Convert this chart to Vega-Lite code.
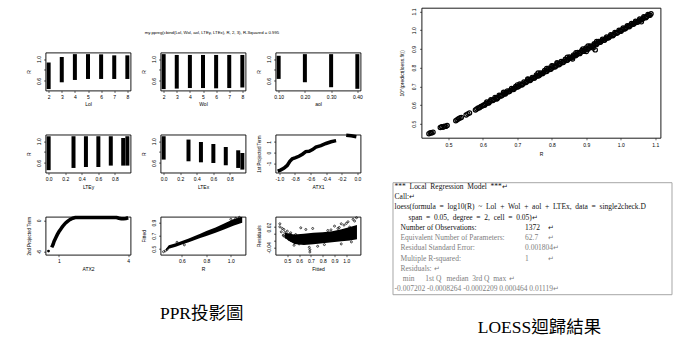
{
  "$schema": "https://vega.github.io/schema/vega-lite/v6.json",
  "background": "white",
  "padding": {"left": 25.5, "top": 6.8, "right": 0, "bottom": 0},
  "config": {
    "view": {"stroke": "black", "strokeWidth": 0.9},
    "axis": {"domain": false, "grid": false, "ticks": true, "tickSize": 2, "tickColor": "black", "tickWidth": 0.6, "labelFont": "Liberation Sans", "labelFontSize": 5, "labelColor": "black", "titleFont": "Liberation Sans", "titleFontSize": 5, "titleFontWeight": "normal", "titleColor": "black", "labelOverlap": false, "labelFlush": false},
    "axisX": {"labelPadding": 2, "titlePadding": 2.5},
    "axisY": {"labelAngle": 270, "labelAlign": "center", "labelBaseline": "bottom", "labelPadding": 2.5, "titlePadding": 5}
  },
  "datasets": {
    "loessLines": [
      {"line": 1, "indent": 0.6, "part": "call", "text": "*** \u00a0Local \u00a0Regression \u00a0Model \u00a0***↵"},
      {"line": 2, "indent": 0.6, "part": "call", "text": "Call:↵"},
      {"line": 3, "indent": 0.6, "part": "call", "text": "loess(formula \u00a0= \u00a0log10(R) \u00a0~ \u00a0Lol \u00a0+ \u00a0Wol \u00a0+ \u00a0aol \u00a0+ \u00a0LTEx, \u00a0data \u00a0= \u00a0single2check.D"},
      {"line": 4, "indent": 4.6, "part": "call", "text": "span \u00a0= \u00a00.05, \u00a0degree \u00a0= \u00a02, \u00a0cell \u00a0= \u00a00.05)↵"},
      {"line": 5, "indent": 2.3, "part": "call", "text": "Number of Observations:"},
      {"line": 5, "indent": 38, "part": "call", "text": "1372"},
      {"line": 5, "indent": 44.5, "part": "call", "text": "↵"},
      {"line": 6, "indent": 2.3, "part": "summary", "text": "Equivalent Number of Parameters:"},
      {"line": 6, "indent": 38, "part": "summary", "text": "62.7"},
      {"line": 6, "indent": 44.5, "part": "summary", "text": "↵"},
      {"line": 7, "indent": 2.3, "part": "summary", "text": "Residual Standard Error:"},
      {"line": 7, "indent": 38, "part": "summary", "text": "0.001804↵"},
      {"line": 8, "indent": 2.3, "part": "summary", "text": "Multiple R-squared:"},
      {"line": 8, "indent": 38, "part": "summary", "text": "1"},
      {"line": 8, "indent": 44.5, "part": "summary", "text": "↵"},
      {"line": 9, "indent": 2.3, "part": "summary", "text": "Residuals: ↵"},
      {"line": 10, "indent": 33.5, "part": "summary", "text": "↵"},
      {"line": 11, "indent": 0.6, "part": "summary", "text": "-0.007202 -0.0008264 -0.0002209 0.000464 0.01119↵"}
    ],
    "residualHeader": [
      {"line": 10, "indent": 6.3, "part": "summary", "text": "min"},
      {"line": 10, "indent": 14.0, "part": "summary", "text": "1st Q"},
      {"line": 10, "indent": 21.8, "part": "summary", "text": "median"},
      {"line": 10, "indent": 27.8, "part": "summary", "text": "3rd Q"},
      {"line": 10, "indent": 32.6, "part": "summary", "text": "max"}
    ]
  },
  "hconcat": [
    {
      "vconcat": [
        {
          "width": 333, "height": 27.7, "view": {"stroke": null, "fill": "white"},
          "data": {"values": [{"label": "my.ppreg(cbind(Lol, Wol, aol, LTEy, LTEx), R, 2, 3), R-Squared = 0.995"}]},
          "mark": {"type": "text", "font": "Liberation Sans", "fontSize": 4.3, "dy": 11.35, "color": "black"},
          "encoding": {"text": {"field": "label"}}
        },
        {
          "vconcat": [
            {
              "hconcat": [
                {
                  "width": 85, "height": 38,
                  "data": {"values": [
                    {"Lol": 2, "lo": 0.451, "hi": 0.937}, {"Lol": 3, "lo": 0.575, "hi": 1.038}, {"Lol": 4, "lo": 0.618, "hi": 1.09},
                    {"Lol": 5, "lo": 0.636, "hi": 1.09}, {"Lol": 6, "lo": 0.636, "hi": 1.086}, {"Lol": 7, "lo": 0.636, "hi": 1.068}, {"Lol": 8, "lo": 0.636, "hi": 1.068}
                  ]},
                  "mark": {"type": "rule", "strokeWidth": 4, "color": "black"},
                  "encoding": {
                    "x": {"field": "Lol", "type": "quantitative", "scale": {"domain": [1.76, 8.24], "nice": false, "zero": false}, "axis": {"values": [2, 3, 4, 5, 6, 7, 8], "format": "d", "title": "Lol"}},
                    "y": {"field": "lo", "type": "quantitative", "scale": {"domain": [0.425, 1.12], "nice": false, "zero": false}, "axis": {"values": [0.6, 0.8, 1.0], "labelExpr": "datum.value == 0.8 ? '' : format(datum.value, '.1f')", "title": "R"}},
                    "y2": {"field": "hi"}
                  }
                },
                {
                  "width": 85, "height": 38,
                  "data": {"values": [
                    {"Wol": 2, "lo": 0.45, "hi": 1.09}, {"Wol": 3, "lo": 0.46, "hi": 1.075}, {"Wol": 4, "lo": 0.47, "hi": 1.075},
                    {"Wol": 5, "lo": 0.47, "hi": 1.075}, {"Wol": 6, "lo": 0.465, "hi": 1.075}, {"Wol": 7, "lo": 0.47, "hi": 1.075}, {"Wol": 8, "lo": 0.48, "hi": 1.075}
                  ]},
                  "mark": {"type": "rule", "strokeWidth": 4, "color": "black"},
                  "encoding": {
                    "x": {"field": "Wol", "type": "quantitative", "scale": {"domain": [1.76, 8.24], "nice": false, "zero": false}, "axis": {"values": [2, 3, 4, 5, 6, 7, 8], "format": "d", "title": "Wol"}},
                    "y": {"field": "lo", "type": "quantitative", "scale": {"domain": [0.425, 1.12], "nice": false, "zero": false}, "axis": {"values": [0.6, 0.8, 1.0], "labelExpr": "datum.value == 0.8 ? '' : format(datum.value, '.1f')", "title": "R"}},
                    "y2": {"field": "hi"}
                  }
                },
                {
                  "width": 85, "height": 38,
                  "data": {"values": [
                    {"aol": 0.1, "lo": 0.637, "hi": 1.06}, {"aol": 0.2, "lo": 0.576, "hi": 1.09}, {"aol": 0.3, "lo": 0.485, "hi": 1.09}, {"aol": 0.4, "lo": 0.456, "hi": 1.09}
                  ]},
                  "mark": {"type": "rule", "strokeWidth": 4, "color": "black"},
                  "encoding": {
                    "x": {"field": "aol", "type": "quantitative", "scale": {"domain": [0.088, 0.412], "nice": false, "zero": false}, "axis": {"values": [0.1, 0.2, 0.3, 0.4], "format": ".2f", "title": "aol"}},
                    "y": {"field": "lo", "type": "quantitative", "scale": {"domain": [0.425, 1.12], "nice": false, "zero": false}, "axis": {"values": [0.6, 0.8, 1.0], "labelExpr": "datum.value == 0.8 ? '' : format(datum.value, '.1f')", "title": "R"}},
                    "y2": {"field": "hi"}
                  }
                }
              ],
              "spacing": 30, "bounds": "flush"
            },
            {
              "hconcat": [
                {
                  "width": 85, "height": 38,
                  "data": {"values": [
                    {"LTEy": 0, "lo": 0.47, "hi": 1.089}, {"LTEy": 0.3, "lo": 0.51, "hi": 1.09}, {"LTEy": 0.45, "lo": 0.527, "hi": 1.09},
                    {"LTEy": 0.6, "lo": 0.527, "hi": 1.09}, {"LTEy": 0.75, "lo": 0.553, "hi": 1.09}, {"LTEy": 0.9, "lo": 0.553, "hi": 1.058}, {"LTEy": 0.95, "lo": 0.553, "hi": 1.09}
                  ]},
                  "mark": {"type": "rule", "strokeWidth": 4, "color": "black"},
                  "encoding": {
                    "x": {"field": "LTEy", "type": "quantitative", "scale": {"domain": [-0.038, 0.988], "nice": false, "zero": false}, "axis": {"values": [0, 0.2, 0.4, 0.6, 0.8], "format": ".1f", "title": "LTEy"}},
                    "y": {"field": "lo", "type": "quantitative", "scale": {"domain": [0.425, 1.12], "nice": false, "zero": false}, "axis": {"values": [0.6, 0.8, 1.0], "labelExpr": "datum.value == 0.8 ? '' : format(datum.value, '.1f')", "title": "R"}},
                    "y2": {"field": "hi"}
                  }
                },
                {
                  "width": 85, "height": 38,
                  "data": {"values": [
                    {"LTEx": 0, "lo": 0.663, "hi": 1.09}, {"LTEx": 0.3, "lo": 0.632, "hi": 1.029}, {"LTEx": 0.45, "lo": 0.613, "hi": 0.985},
                    {"LTEx": 0.6, "lo": 0.601, "hi": 0.948}, {"LTEx": 0.75, "lo": 0.559, "hi": 0.893}, {"LTEx": 0.9, "lo": 0.51, "hi": 0.833}, {"LTEx": 0.95, "lo": 0.48, "hi": 0.784}
                  ]},
                  "mark": {"type": "rule", "strokeWidth": 4, "color": "black"},
                  "encoding": {
                    "x": {"field": "LTEx", "type": "quantitative", "scale": {"domain": [-0.038, 0.988], "nice": false, "zero": false}, "axis": {"values": [0, 0.2, 0.4, 0.6, 0.8], "format": ".1f", "title": "LTEx"}},
                    "y": {"field": "lo", "type": "quantitative", "scale": {"domain": [0.425, 1.12], "nice": false, "zero": false}, "axis": {"values": [0.6, 0.8, 1.0], "labelExpr": "datum.value == 0.8 ? '' : format(datum.value, '.1f')", "title": "R"}},
                    "y2": {"field": "hi"}
                  }
                },
                {
                  "width": 85, "height": 38,
                  "data": {"values": [
                    {"ATX1": -1.022, "term": -1.71, "seg": "a"}, {"ATX1": -0.987, "term": -1.62, "seg": "a"}, {"ATX1": -0.944, "term": -1.45, "seg": "a"},
                    {"ATX1": -0.9, "term": -1.19, "seg": "a"}, {"ATX1": -0.866, "term": -0.8, "seg": "a"}, {"ATX1": -0.835, "term": -0.57, "seg": "a"},
                    {"ATX1": -0.792, "term": -0.47, "seg": "a"}, {"ATX1": -0.749, "term": -0.34, "seg": "a"}, {"ATX1": -0.705, "term": -0.15, "seg": "a"},
                    {"ATX1": -0.662, "term": 0.09, "seg": "a"}, {"ATX1": -0.619, "term": 0.12, "seg": "a"}, {"ATX1": -0.575, "term": 0.28, "seg": "a"},
                    {"ATX1": -0.532, "term": 0.51, "seg": "a"}, {"ATX1": -0.468, "term": 0.64, "seg": "a"}, {"ATX1": -0.403, "term": 0.84, "seg": "a"},
                    {"ATX1": -0.338, "term": 1.0, "seg": "a"}, {"ATX1": -0.273, "term": 1.1, "seg": "a"},
                    {"ATX1": -0.143, "term": 1.6, "seg": "b"}, {"ATX1": -0.078, "term": 1.55, "seg": "b"}, {"ATX1": -0.013, "term": 1.47, "seg": "b"}
                  ]},
                  "mark": {"type": "line", "strokeWidth": 3.5, "color": "black"},
                  "encoding": {
                    "x": {"field": "ATX1", "type": "quantitative", "scale": {"domain": [-1.05, 0.04], "nice": false, "zero": false}, "axis": {"values": [-1, -0.8, -0.6, -0.4, -0.2, 0], "labelExpr": "replace(format(datum.value, '.1f'), '−', '-')", "title": "ATX1"}},
                    "y": {"field": "term", "type": "quantitative", "scale": {"domain": [-1.85, 1.66], "nice": false, "zero": false}, "axis": {"values": [-1, 0, 1], "labelExpr": "replace(format(datum.value, 'd'), '−', '-')", "title": "1st Projected Term", "titleFontSize": 4.5}},
                    "detail": {"field": "seg"}
                  }
                }
              ],
              "spacing": 30, "bounds": "flush"
            },
            {
              "hconcat": [
                {
                  "width": 85, "height": 38,
                  "layer": [
                    {
                      "data": {"values": [
                        {"ATX2": 0.69, "term": -5.2}, {"ATX2": 0.75, "term": -4.6}, {"ATX2": 0.79, "term": -4.04}, {"ATX2": 0.86, "term": -3.4},
                        {"ATX2": 0.93, "term": -2.75}, {"ATX2": 1.0, "term": -2.2}, {"ATX2": 1.07, "term": -1.76}, {"ATX2": 1.14, "term": -1.3},
                        {"ATX2": 1.21, "term": -0.9}, {"ATX2": 1.28, "term": -0.55}, {"ATX2": 1.36, "term": -0.25}, {"ATX2": 1.43, "term": 0.0},
                        {"ATX2": 1.5, "term": 0.2}, {"ATX2": 1.6, "term": 0.4}, {"ATX2": 1.71, "term": 0.53}, {"ATX2": 2.0, "term": 0.55},
                        {"ATX2": 2.5, "term": 0.55}, {"ATX2": 3.0, "term": 0.55}, {"ATX2": 3.5, "term": 0.55}, {"ATX2": 3.6, "term": 0.4},
                        {"ATX2": 3.7, "term": 0.3}, {"ATX2": 3.8, "term": 0.3}, {"ATX2": 3.9, "term": 0.35}, {"ATX2": 4.0, "term": 0.5}
                      ]},
                      "mark": {"type": "line", "strokeWidth": 3.5, "color": "black"},
                      "encoding": {
                        "x": {"field": "ATX2", "type": "quantitative", "scale": {"domain": [0.42, 4.1], "nice": false, "zero": false}, "axis": {"values": [1, 2, 3, 4], "format": "d", "title": "ATX2"}},
                        "y": {"field": "term", "type": "quantitative", "scale": {"domain": [-6.6, 0.7], "nice": false, "zero": false}, "axis": {"values": [-6, -4, -2, 0], "labelExpr": "replace(format(datum.value, 'd'), '−', '-')", "title": "2nd Projected Term", "titleFontSize": 4.5}}
                      }
                    },
                    {
                      "data": {"values": [{"ATX2": 0.55, "term": -5.9}]},
                      "mark": {"type": "point", "filled": true, "size": 8, "color": "black", "opacity": 1},
                      "encoding": {
                        "x": {"field": "ATX2", "type": "quantitative", "scale": {"domain": [0.42, 4.1], "nice": false, "zero": false}},
                        "y": {"field": "term", "type": "quantitative", "scale": {"domain": [-6.6, 0.7], "nice": false, "zero": false}}
                      }
                    }
                  ]
                },
                {
                  "width": 85, "height": 38,
                  "layer": [
                    {
                      "data": {"values": [
                        {"R": 0.47, "Fitted": 0.47, "Fitted_hi": 0.5}, {"R": 0.493, "Fitted": 0.502, "Fitted_hi": 0.555}, {"R": 0.55, "Fitted": 0.53, "Fitted_hi": 0.585},
                        {"R": 0.6, "Fitted": 0.565, "Fitted_hi": 0.62}, {"R": 0.656, "Fitted": 0.6, "Fitted_hi": 0.656}, {"R": 0.7, "Fitted": 0.63, "Fitted_hi": 0.69},
                        {"R": 0.75, "Fitted": 0.665, "Fitted_hi": 0.73}, {"R": 0.8, "Fitted": 0.695, "Fitted_hi": 0.77}, {"R": 0.875, "Fitted": 0.744, "Fitted_hi": 0.825},
                        {"R": 0.95, "Fitted": 0.8, "Fitted_hi": 0.89}, {"R": 1.02, "Fitted": 0.85, "Fitted_hi": 0.95}, {"R": 1.093, "Fitted": 0.898, "Fitted_hi": 0.99}
                      ]},
                      "mark": {"type": "area", "color": "black", "opacity": 1},
                      "encoding": {
                        "x": {"field": "R", "type": "quantitative", "scale": {"domain": [0.425, 1.12], "nice": false, "zero": false}, "axis": {"values": [0.6, 0.8, 1.0], "format": ".1f", "title": "R"}},
                        "y": {"field": "Fitted", "type": "quantitative", "scale": {"domain": [0.41, 0.99], "nice": false, "zero": false}, "axis": {"values": [0.5, 0.7, 0.9], "format": ".1f", "title": "Fitted"}},
                        "y2": {"field": "Fitted_hi"}
                      }
                    },
                    {
                      "data": {"values": [
                        {"R": 0.45, "Fitted": 0.455}, {"R": 0.465, "Fitted": 0.47}, {"R": 0.48, "Fitted": 0.49}, {"R": 1.0, "Fitted": 0.95},
                        {"R": 1.04, "Fitted": 0.965}, {"R": 1.07, "Fitted": 0.98}, {"R": 0.56, "Fitted": 0.6}, {"R": 0.62, "Fitted": 0.56}
                      ]},
                      "mark": {"type": "point", "filled": false, "size": 4, "strokeWidth": 0.7, "color": "black", "opacity": 1},
                      "encoding": {
                        "x": {"field": "R", "type": "quantitative", "scale": {"domain": [0.425, 1.12], "nice": false, "zero": false}, "axis": {"values": [0.6, 0.8, 1.0], "format": ".1f", "title": "R"}},
                        "y": {"field": "Fitted", "type": "quantitative", "scale": {"domain": [0.41, 0.99], "nice": false, "zero": false}, "axis": {"values": [0.5, 0.7, 0.9], "format": ".1f", "title": "Fitted"}}
                      }
                    }
                  ]
                },
                {
                  "width": 85, "height": 38,
                  "layer": [
                    {
                      "data": {"values": [
                        {"Fitted": 0.48, "Residuals": -0.012, "Residuals_hi": 0.004}, {"Fitted": 0.52, "Residuals": -0.022, "Residuals_hi": 0.0},
                        {"Fitted": 0.56, "Residuals": -0.03, "Residuals_hi": -0.002}, {"Fitted": 0.64, "Residuals": -0.033, "Residuals_hi": 0.0},
                        {"Fitted": 0.72, "Residuals": -0.031, "Residuals_hi": 0.003}, {"Fitted": 0.8, "Residuals": -0.028, "Residuals_hi": 0.005},
                        {"Fitted": 0.88, "Residuals": -0.025, "Residuals_hi": 0.008}, {"Fitted": 0.96, "Residuals": -0.022, "Residuals_hi": 0.014},
                        {"Fitted": 1.03, "Residuals": -0.02, "Residuals_hi": 0.02}, {"Fitted": 1.09, "Residuals": -0.016, "Residuals_hi": 0.026}
                      ]},
                      "mark": {"type": "area", "color": "black", "opacity": 1},
                      "encoding": {
                        "x": {"field": "Fitted", "type": "quantitative", "scale": {"domain": [0.4, 1.12], "nice": false, "zero": false}, "axis": {"values": [0.5, 0.6, 0.7, 0.8, 0.9, 1.0], "format": ".1f", "title": "Fitted"}},
                        "y": {"field": "Residuals", "type": "quantitative", "scale": {"domain": [-0.062, 0.051], "nice": false, "zero": false}, "axis": {"values": [-0.04, -0.02, 0, 0.02], "labelExpr": "datum.value == -0.04 ? '-0.04' : datum.value == 0.02 ? '0.02' : ''", "title": "Residuals"}},
                        "y2": {"field": "Residuals_hi"}
                      }
                    },
                    {
                      "data": {"values": [
                        {"Fitted": 0.437, "Residuals": 0.03}, {"Fitted": 0.437, "Residuals": 0.021}, {"Fitted": 0.449, "Residuals": 0.006}, {"Fitted": 0.457, "Residuals": 0.016},
                        {"Fitted": 0.471, "Residuals": 0.013}, {"Fitted": 0.466, "Residuals": -0.004}, {"Fitted": 0.486, "Residuals": -0.01}, {"Fitted": 0.5, "Residuals": 0.008},
                        {"Fitted": 0.514, "Residuals": -0.017}, {"Fitted": 0.529, "Residuals": 0.003}, {"Fitted": 0.557, "Residuals": -0.034}, {"Fitted": 0.571, "Residuals": -0.002},
                        {"Fitted": 0.6, "Residuals": -0.03}, {"Fitted": 0.614, "Residuals": 0.018}, {"Fitted": 0.643, "Residuals": -0.017}, {"Fitted": 0.657, "Residuals": 0.013},
                        {"Fitted": 0.686, "Residuals": -0.04}, {"Fitted": 0.691, "Residuals": -0.047}, {"Fitted": 0.691, "Residuals": -0.054}, {"Fitted": 0.715, "Residuals": 0.016},
                        {"Fitted": 0.757, "Residuals": -0.037}, {"Fitted": 0.814, "Residuals": -0.032}, {"Fitted": 0.843, "Residuals": 0.01}, {"Fitted": 0.9, "Residuals": 0.023},
                        {"Fitted": 0.929, "Residuals": 0.016}, {"Fitted": 0.957, "Residuals": 0.03}, {"Fitted": 0.957, "Residuals": -0.03}, {"Fitted": 1.014, "Residuals": 0.036},
                        {"Fitted": 1.028, "Residuals": 0.02}, {"Fitted": 1.043, "Residuals": -0.024}, {"Fitted": 1.057, "Residuals": 0.043}, {"Fitted": 1.086, "Residuals": 0.048},
                        {"Fitted": 0.48, "Residuals": 0.004}, {"Fitted": 0.52, "Residuals": -0.001}, {"Fitted": 0.56, "Residuals": -0.006}, {"Fitted": 0.6, "Residuals": -0.011},
                        {"Fitted": 0.47, "Residuals": -0.006}, {"Fitted": 0.53, "Residuals": -0.02}, {"Fitted": 0.58, "Residuals": -0.025},
                        {"Fitted": 0.87, "Residuals": 0.012}, {"Fitted": 0.94, "Residuals": 0.019}, {"Fitted": 0.98, "Residuals": 0.026}, {"Fitted": 1.0, "Residuals": 0.031},
                        {"Fitted": 1.07, "Residuals": 0.038}
                      ]},
                      "mark": {"type": "point", "filled": false, "size": 4, "strokeWidth": 0.7, "color": "black", "opacity": 1},
                      "encoding": {
                        "x": {"field": "Fitted", "type": "quantitative", "scale": {"domain": [0.4, 1.12], "nice": false, "zero": false}, "axis": {"values": [0.5, 0.6, 0.7, 0.8, 0.9, 1.0], "format": ".1f", "title": "Fitted"}},
                        "y": {"field": "Residuals", "type": "quantitative", "scale": {"domain": [-0.062, 0.051], "nice": false, "zero": false}, "axis": {"values": [-0.04, -0.02, 0, 0.02], "labelExpr": "datum.value == -0.04 ? '-0.04' : datum.value == 0.02 ? '0.02' : ''", "title": "Residuals"}}
                      }
                    }
                  ]
                }
              ],
              "spacing": 30, "bounds": "flush"
            }
          ],
          "spacing": 20.1,
          "title": {"text": "PPR投影圖", "orient": "bottom", "anchor": "middle", "offset": 33.5, "dx": 7, "fontSize": 17.5, "font": "Liberation Serif, Noto Sans CJK TC", "fontWeight": "normal", "color": "black"}
        }
      ],
      "spacing": 15.7
    },
    {
      "vconcat": [
        {
          "hconcat": [
            {
              "width": 1, "height": 1, "view": {"stroke": null, "fill": "white"},
              "data": {"values": [{"k": 0}]},
              "mark": {"type": "point", "opacity": 0, "size": 1},
              "encoding": {}
            },
            {
              "width": 239, "height": 130,
              "data": {"values": [
                {"R": 0.443, "P": 0.447}, {"R": 0.447, "P": 0.452}, {"R": 0.451, "P": 0.45}, {"R": 0.455, "P": 0.455},
                {"R": 0.476, "P": 0.48}, {"R": 0.48, "P": 0.484}, {"R": 0.484, "P": 0.481}, {"R": 0.488, "P": 0.487}, {"R": 0.492, "P": 0.486}, {"R": 0.496, "P": 0.491},
                {"R": 0.521, "P": 0.516}, {"R": 0.525, "P": 0.522}, {"R": 0.529, "P": 0.527}, {"R": 0.533, "P": 0.531}, {"R": 0.537, "P": 0.534},
                {"R": 0.551, "P": 0.547}, {"R": 0.556, "P": 0.553}, {"R": 0.561, "P": 0.558},
                {"R": 0.578, "P": 0.574}, {"R": 0.582, "P": 0.579}, {"R": 0.586, "P": 0.584}, {"R": 0.59, "P": 0.586}, {"R": 0.594, "P": 0.592}, {"R": 0.598, "P": 0.595},
                {"R": 0.602, "P": 0.6}, {"R": 0.608, "P": 0.607}, {"R": 0.614, "P": 0.611}, {"R": 0.62, "P": 0.619}, {"R": 0.626, "P": 0.624}, {"R": 0.632, "P": 0.63},
                {"R": 0.638, "P": 0.637}, {"R": 0.644, "P": 0.641}, {"R": 0.65, "P": 0.649}, {"R": 0.656, "P": 0.653}, {"R": 0.662, "P": 0.66}, {"R": 0.668, "P": 0.667},
                {"R": 0.674, "P": 0.671}, {"R": 0.68, "P": 0.679}, {"R": 0.686, "P": 0.684}, {"R": 0.692, "P": 0.69}, {"R": 0.698, "P": 0.697}, {"R": 0.704, "P": 0.701},
                {"R": 0.71, "P": 0.709}, {"R": 0.716, "P": 0.713}, {"R": 0.722, "P": 0.72}, {"R": 0.728, "P": 0.727}, {"R": 0.734, "P": 0.731}, {"R": 0.74, "P": 0.738},
                {"R": 0.746, "P": 0.744}, {"R": 0.752, "P": 0.75}, {"R": 0.758, "P": 0.757}, {"R": 0.764, "P": 0.76}, {"R": 0.77, "P": 0.768}, {"R": 0.776, "P": 0.774},
                {"R": 0.782, "P": 0.779}, {"R": 0.788, "P": 0.787}, {"R": 0.794, "P": 0.79}, {"R": 0.8, "P": 0.798}, {"R": 0.806, "P": 0.805}, {"R": 0.812, "P": 0.809},
                {"R": 0.818, "P": 0.817}, {"R": 0.824, "P": 0.821}, {"R": 0.83, "P": 0.828}, {"R": 0.836, "P": 0.835}, {"R": 0.842, "P": 0.838}, {"R": 0.848, "P": 0.846},
                {"R": 0.854, "P": 0.852}, {"R": 0.86, "P": 0.857}, {"R": 0.866, "P": 0.865}, {"R": 0.872, "P": 0.869}, {"R": 0.878, "P": 0.876}, {"R": 0.884, "P": 0.882},
                {"R": 0.89, "P": 0.887}, {"R": 0.896, "P": 0.895}, {"R": 0.902, "P": 0.899}, {"R": 0.908, "P": 0.906}, {"R": 0.914, "P": 0.912}, {"R": 0.92, "P": 0.917},
                {"R": 0.926, "P": 0.925}, {"R": 0.932, "P": 0.929}, {"R": 0.938, "P": 0.936}, {"R": 0.944, "P": 0.942}, {"R": 0.95, "P": 0.947}, {"R": 0.956, "P": 0.955},
                {"R": 0.962, "P": 0.959}, {"R": 0.968, "P": 0.966}, {"R": 0.974, "P": 0.972}, {"R": 0.98, "P": 0.977}, {"R": 0.986, "P": 0.985}, {"R": 0.992, "P": 0.989},
                {"R": 0.998, "P": 0.996}, {"R": 1.004, "P": 1.003}, {"R": 1.01, "P": 1.007}, {"R": 1.016, "P": 1.014}, {"R": 1.022, "P": 1.021}, {"R": 1.028, "P": 1.025},
                {"R": 1.034, "P": 1.032}, {"R": 1.04, "P": 1.038}, {"R": 1.046, "P": 1.044}, {"R": 1.052, "P": 1.05}, {"R": 1.058, "P": 1.055}, {"R": 1.064, "P": 1.062},
                {"R": 1.07, "P": 1.068}, {"R": 1.076, "P": 1.073}, {"R": 1.082, "P": 1.08}, {"R": 1.088, "P": 1.088},
                {"R": 0.785, "P": 0.795}, {"R": 0.8, "P": 0.81}, {"R": 0.815, "P": 0.826}, {"R": 0.845, "P": 0.856}, {"R": 0.87, "P": 0.88}, {"R": 0.89, "P": 0.9},
                {"R": 0.905, "P": 0.916}, {"R": 0.93, "P": 0.94}, {"R": 0.86, "P": 0.846}, {"R": 0.9, "P": 0.886}, {"R": 0.92, "P": 0.905}, {"R": 0.926, "P": 0.895},
                {"R": 1.06, "P": 1.045}, {"R": 0.76, "P": 0.771}, {"R": 0.73, "P": 0.74}, {"R": 0.7, "P": 0.708}, {"R": 0.66, "P": 0.668}, {"R": 0.64, "P": 0.632},
                {"R": 0.605, "P": 0.599}, {"R": 0.617, "P": 0.611}, {"R": 0.629, "P": 0.624}, {"R": 0.641, "P": 0.635}, {"R": 0.653, "P": 0.648}, {"R": 0.665, "P": 0.659},
                {"R": 0.677, "P": 0.672}, {"R": 0.689, "P": 0.683}, {"R": 0.701, "P": 0.696}, {"R": 0.713, "P": 0.707}, {"R": 0.725, "P": 0.72}, {"R": 0.737, "P": 0.731},
                {"R": 0.749, "P": 0.744}, {"R": 0.761, "P": 0.755}, {"R": 0.773, "P": 0.768}, {"R": 0.785, "P": 0.779}, {"R": 0.797, "P": 0.792}, {"R": 0.809, "P": 0.803},
                {"R": 0.821, "P": 0.815}, {"R": 0.833, "P": 0.827}, {"R": 0.845, "P": 0.84}, {"R": 0.857, "P": 0.851}, {"R": 0.869, "P": 0.863}, {"R": 0.881, "P": 0.875},
                {"R": 0.893, "P": 0.887}, {"R": 0.905, "P": 0.899}, {"R": 0.917, "P": 0.911}, {"R": 0.929, "P": 0.923}, {"R": 0.941, "P": 0.936}, {"R": 0.953, "P": 0.947},
                {"R": 0.965, "P": 0.96}, {"R": 0.977, "P": 0.971}, {"R": 0.989, "P": 0.984}, {"R": 1.001, "P": 0.995}, {"R": 1.013, "P": 1.008}, {"R": 1.025, "P": 1.019},
                {"R": 1.037, "P": 1.032}, {"R": 1.049, "P": 1.043}, {"R": 1.061, "P": 1.056}, {"R": 1.073, "P": 1.067}, {"R": 1.085, "P": 1.08},
                {"R": 0.611, "P": 0.616}, {"R": 0.623, "P": 0.628}, {"R": 0.635, "P": 0.641}, {"R": 0.647, "P": 0.652}, {"R": 0.659, "P": 0.665}, {"R": 0.671, "P": 0.676},
                {"R": 0.683, "P": 0.689}, {"R": 0.695, "P": 0.7}, {"R": 0.707, "P": 0.713}, {"R": 0.719, "P": 0.724}, {"R": 0.731, "P": 0.737}, {"R": 0.743, "P": 0.748},
                {"R": 0.755, "P": 0.761}, {"R": 0.767, "P": 0.772}, {"R": 0.779, "P": 0.785}, {"R": 0.791, "P": 0.797}, {"R": 0.803, "P": 0.809}, {"R": 0.815, "P": 0.821},
                {"R": 0.827, "P": 0.833}, {"R": 0.839, "P": 0.845}, {"R": 0.851, "P": 0.857}, {"R": 0.863, "P": 0.868}, {"R": 0.875, "P": 0.881}, {"R": 0.887, "P": 0.892},
                {"R": 0.899, "P": 0.905}, {"R": 0.911, "P": 0.916}, {"R": 0.923, "P": 0.928}, {"R": 0.935, "P": 0.94}, {"R": 0.947, "P": 0.952}, {"R": 0.959, "P": 0.964},
                {"R": 0.971, "P": 0.976}, {"R": 0.983, "P": 0.988}, {"R": 0.995, "P": 1.0}, {"R": 1.007, "P": 1.012}, {"R": 1.019, "P": 1.024}, {"R": 1.031, "P": 1.036},
                {"R": 1.043, "P": 1.048}, {"R": 1.055, "P": 1.06}, {"R": 1.067, "P": 1.072}, {"R": 1.079, "P": 1.084}
              ]},
              "mark": {"type": "point", "filled": false, "size": 18, "strokeWidth": 1.2, "color": "black", "opacity": 1},
              "encoding": {
                "x": {"field": "R", "type": "quantitative", "scale": {"domain": [0.4215, 1.1154], "nice": false, "zero": false}, "axis": {"values": [0.5, 0.6, 0.7, 0.8, 0.9, 1.0, 1.1], "format": ".1f", "title": "R", "labelPadding": 2.3, "titlePadding": 4.5}},
                "y": {"field": "P", "type": "quantitative", "scale": {"domain": [0.425, 1.12], "nice": false, "zero": false}, "axis": {"values": [0.5, 0.6, 0.7, 0.8, 0.9, 1.0, 1.1], "format": ".1f", "title": "10^(predict(loess.fit))", "titlePadding": 7}}
              }
            }
          ],
          "spacing": 28, "bounds": "flush"
        },
        {
          "width": 279, "height": 112,
          "view": {"stroke": "#a6a6a6", "strokeWidth": 1},
          "title": {"text": "LOESS迴歸結果", "orient": "bottom", "anchor": "middle", "offset": 25, "dx": 7.5, "fontSize": 17.5, "font": "Liberation Serif, Noto Sans CJK TC", "fontWeight": "normal", "color": "black"},
          "layer": [
            {
              "data": {"name": "loessLines"},
              "mark": {"type": "text", "align": "left", "baseline": "middle", "font": "Liberation Serif", "fontSize": 7.5, "clip": true},
              "encoding": {
                "x": {"field": "indent", "type": "quantitative", "scale": {"domain": [0, 80], "nice": false, "zero": false}, "axis": null},
                "y": {"field": "line", "type": "quantitative", "scale": {"domain": [0.54, 11.47], "reverse": true, "nice": false, "zero": false}, "axis": null},
                "text": {"field": "text"},
                "color": {"field": "part", "type": "nominal", "scale": {"domain": ["call", "summary"], "range": ["#111111", "#808080"]}, "legend": null}
              }
            },
            {
              "data": {"name": "residualHeader"},
              "mark": {"type": "text", "align": "right", "baseline": "middle", "font": "Liberation Serif", "fontSize": 7.5, "clip": true},
              "encoding": {
                "x": {"field": "indent", "type": "quantitative", "scale": {"domain": [0, 80], "nice": false, "zero": false}, "axis": null},
                "y": {"field": "line", "type": "quantitative", "scale": {"domain": [0.54, 11.47], "reverse": true, "nice": false, "zero": false}, "axis": null},
                "text": {"field": "text"},
                "color": {"field": "part", "type": "nominal", "scale": {"domain": ["call", "summary"], "range": ["#111111", "#808080"]}, "legend": null}
              }
            }
          ]
        }
      ],
      "spacing": 23.4
    }
  ],
  "spacing": 13
}
